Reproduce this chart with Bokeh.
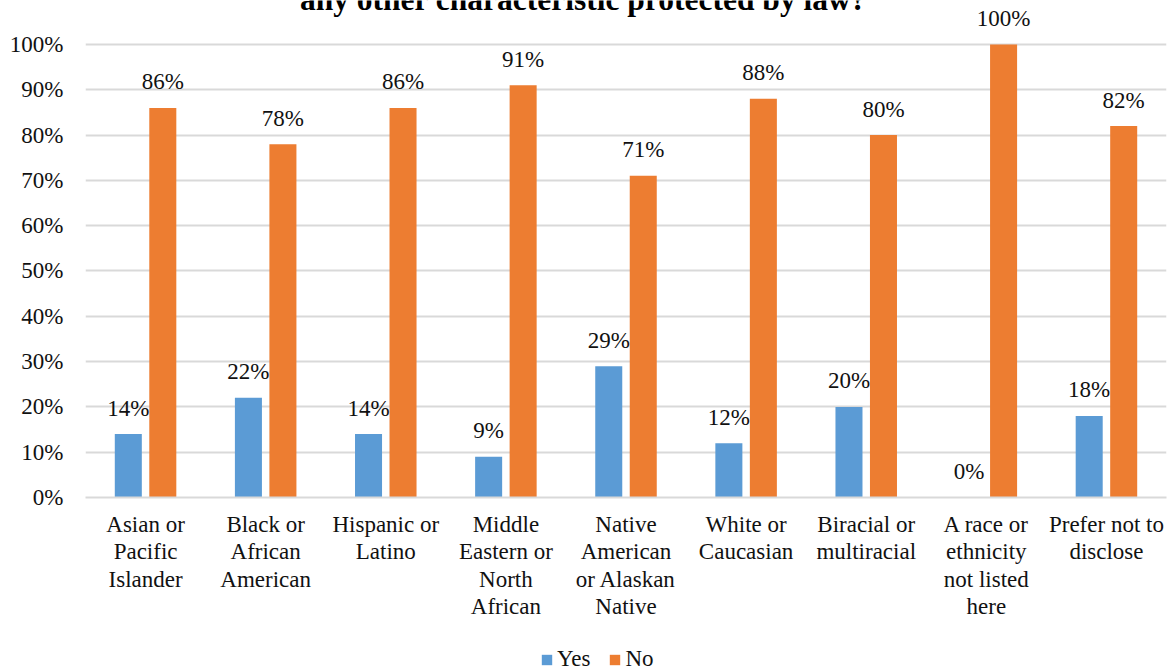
from bokeh.plotting import figure
from bokeh.layouts import column
from bokeh.models import FactorRange, Range1d, ColumnDataSource, FixedTicker, NumeralTickFormatter, Legend, LegendItem, Label
from bokeh.transform import dodge
from bokeh.core.properties import value
from bokeh.embed import file_html
from bokeh.resources import INLINE

title_text = "any other characteristic protected by law?"
categories = ["Asian or\nPacific\nIslander", "Black or\nAfrican\nAmerican", "Hispanic or\nLatino",
              "Middle\nEastern or\nNorth\nAfrican", "Native\nAmerican\nor Alaskan\nNative",
              "White or\nCaucasian", "Biracial or\nmultiracial",
              "A race or\nethnicity\nnot listed\nhere", "Prefer not to\ndisclose"]
series_names = ["Yes", "No"]
yes_pct = [14, 22, 14, 9, 29, 12, 20, 0, 18]
no_pct = [86, 78, 86, 91, 71, 88, 80, 100, 82]
y_ticks = [0, 0.1, 0.2, 0.3, 0.4, 0.5, 0.6, 0.7, 0.8, 0.9, 1.0]

FONT = "Liberation Serif"
TXT = "#111111"
BLUE = "#5b9bd5"
ORANGE = "#ed7d31"
GRID = "#d9d9d9"

src = ColumnDataSource(dict(
    cat=categories,
    yes=[v / 100 for v in yes_pct],
    no=[v / 100 for v in no_pct],
    yes_lbl=[f"{v}%" for v in yes_pct],
    no_lbl=[f"{v}%" for v in no_pct],
))

p = figure(x_range=FactorRange(factors=categories), y_range=Range1d(0, 1.0971),
           frame_width=1081, frame_height=497, output_backend="svg", toolbar_location=None,
           min_border_left=85, min_border_right=4, min_border_top=0, min_border_bottom=125)
p.outline_line_color = None
p.background_fill_color = "white"
p.border_fill_color = "white"

off = 0.1436
bw = 0.225
p.vbar(x=dodge("cat", -off, range=p.x_range), top="yes", width=bw, source=src,
       fill_color=BLUE, line_color=None)
p.vbar(x=dodge("cat", off, range=p.x_range), top="no", width=bw, source=src,
       fill_color=ORANGE, line_color=None)

p.text(x=dodge("cat", -off, range=p.x_range), y="yes", text="yes_lbl", source=src,
       text_font=value(FONT), text_font_size="23px", text_color=TXT,
       text_align="center", text_baseline="alphabetic", y_offset=-26)
p.text(x=dodge("cat", off, range=p.x_range), y="no", text="no_lbl", source=src,
       text_font=value(FONT), text_font_size="23px", text_color=TXT,
       text_align="center", text_baseline="alphabetic", y_offset=-26)

p.xgrid.grid_line_color = None
p.ygrid.grid_line_color = GRID
p.ygrid.grid_line_width = 2
p.yaxis.ticker = FixedTicker(ticks=y_ticks)
p.yaxis.formatter = NumeralTickFormatter(format="0%")

for ax in (p.xaxis[0], p.yaxis[0]):
    ax.major_tick_line_color = None
    ax.minor_tick_line_color = None
    ax.major_tick_out = 0
    ax.major_tick_in = 0
    ax.major_label_text_font = FONT
    ax.major_label_text_font_size = "23px"
    ax.major_label_text_color = TXT
p.yaxis.axis_line_color = None
p.yaxis.major_label_standoff = 22
p.xaxis.axis_line_color = GRID
p.xaxis.axis_line_width = 2
p.xaxis.major_label_standoff = 14
p.xaxis.major_label_text_line_height = 1.1

title = Label(x=498, y=498, x_units="screen", y_units="screen", text=title_text,
              text_font=FONT, text_font_size="31.5px", text_font_style="bold",
              text_color="#000000", text_align="center", text_baseline="alphabetic")
p.add_layout(title)

# legend strip below the chart
lg = figure(width=1170, height=46, x_range=Range1d(0, 1), y_range=Range1d(0, 1),
            output_backend="svg", toolbar_location=None,
            x_axis_location=None, y_axis_location=None,
            min_border_left=0, min_border_right=0, min_border_top=0, min_border_bottom=0)
lg.outline_line_color = None
lg.grid.visible = False
lg.background_fill_color = "white"
lg.border_fill_color = "white"
r_yes = lg.vbar(x=[0.5], top=[0], bottom=[0], width=0.0, fill_color=BLUE, line_color=None)
r_no = lg.vbar(x=[0.5], top=[0], bottom=[0], width=0.0, fill_color=ORANGE, line_color=None)

legend = Legend(items=[LegendItem(label=series_names[0], renderers=[r_yes]),
                       LegendItem(label=series_names[1], renderers=[r_no])],
                orientation="horizontal", location=(455, -4),
                label_text_font=FONT, label_text_font_size="23px", label_text_color=TXT,
                glyph_width=13, glyph_height=13, label_standoff=4, spacing=18,
                padding=0, margin=0, border_line_color=None, background_fill_alpha=0,
                label_height=13)
lg.add_layout(legend, "center")

layout = column(p, lg, spacing=0)
open("out.html", "w").write(file_html(layout, INLINE))
